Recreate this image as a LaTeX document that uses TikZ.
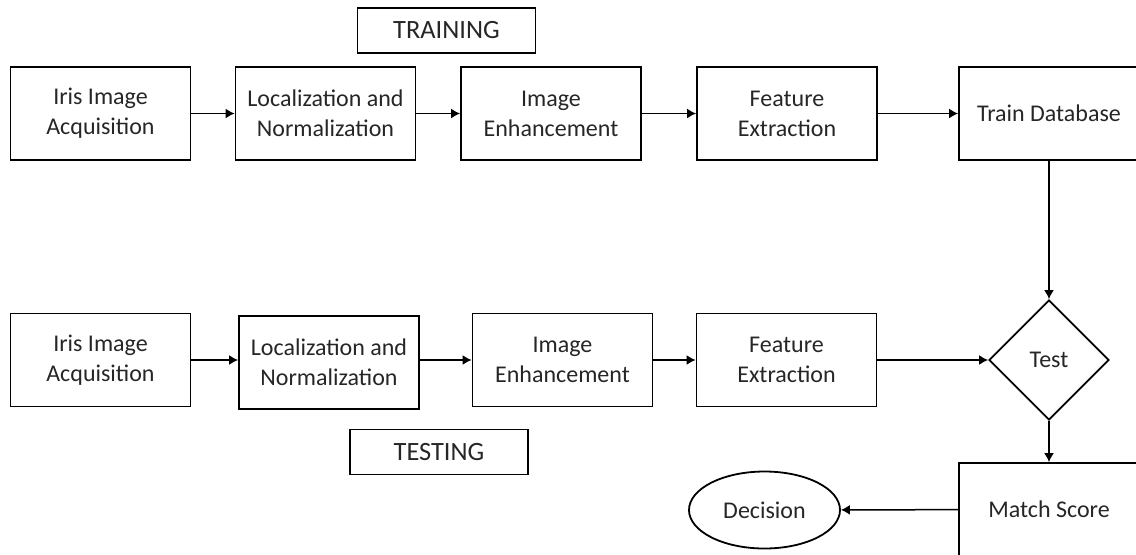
\documentclass[tikz,border=0pt]{standalone}
\usepackage{fontspec}
\setmainfont{Carlito}
\usepackage{tikz}
\usetikzlibrary{shapes.geometric, arrows.meta, positioning, calc}

\begin{document}
\begin{tikzpicture}[x=0.5pt, y=-0.5pt,
    font=\fontsize{12}{15}\selectfont, text=black!85,
    stage/.style={draw, line width=0.9pt, align=center, inner sep=0pt,
        minimum width=90pt, minimum height=46.5pt},
    phase/.style={draw, line width=0.9pt, inner sep=0pt,
        font=\fontsize{13.2}{16}\selectfont,
        minimum width=89pt, minimum height=22.5pt},
    flow/.style={->, line width=0.75pt, >={Latex[length=4.5pt,width=5pt]}}]
    \useasboundingbox (0,0) rectangle (1136,554);
    \clip (0,0) rectangle (1136,554);

    % training
    \node[phase] (train) at (446.5,30.5) {TRAINING};
    \node[stage] (acq1) at (100.5,113.5) {Iris Image\\Acquisition};
    \node[stage] (loc1) at (325.5,113.5) {Localization and\\Normalization};
    \node[stage] (enh1) at (551,113.5) {Image\\Enhancement};
    \node[stage] (feat1) at (787,113.5) {Feature\\Extraction};
    \node[stage] (db) at (1049,113.5) {Train Database};

    % testing
    \node[stage] (acq2) at (100.5,360) {Iris Image\\Acquisition};
    \node[stage] (loc2) at (329,362.5) {Localization and\\Normalization};
    \node[stage] (enh2) at (562.5,360) {Image\\Enhancement};
    \node[stage] (feat2) at (786.5,360) {Feature\\Extraction};
    \node[phase] (test) at (439,452) {TESTING};

    \node[draw, diamond, line width=0.9pt, inner sep=0pt,
        minimum width=60pt, minimum height=60pt] (cmp) at (1049,360) {Test};
    \node[stage] (match) at (1049,509.5) {Match Score};
    \node[draw, ellipse, line width=0.9pt, inner sep=0pt,
        minimum width=75.5pt, minimum height=38.5pt] (dec) at (764.5,510) {Decision};

    \draw[flow] (acq1) -- (loc1);
    \draw[flow] (loc1) -- (enh1);
    \draw[flow] (enh1) -- (feat1);
    \draw[flow] (feat1) -- (db);
    \draw[flow] (db.south) -- (cmp.north);

    \draw[flow] (acq2) -- (acq2 -| loc2.west);
    \draw[flow] (loc2.east |- enh2) -- (enh2);
    \draw[flow] (enh2) -- (feat2);
    \draw[flow] (feat2) -- (cmp);
    \draw[flow] (cmp.south) -- (match.north);
    \draw[flow] (match) -- (dec);
\end{tikzpicture}
\end{document}
